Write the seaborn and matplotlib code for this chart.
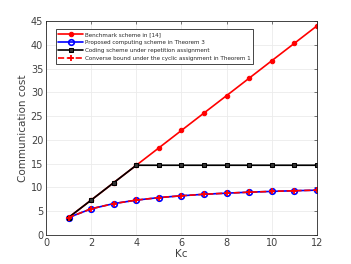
import numpy as np
import pandas as pd
import matplotlib
matplotlib.use("Agg")
import matplotlib.pyplot as plt
import seaborn as sns

kc = [1, 2, 3, 4, 5, 6, 7, 8, 9, 10, 11, 12]
benchmark = [3.67, 7.33, 11.0, 14.67, 18.33, 22.0, 25.67, 29.33, 33.0, 36.67, 40.33, 44.0]
proposed = [3.67, 5.5, 6.6, 7.33, 7.86, 8.25, 8.56, 8.8, 9.0, 9.17, 9.31, 9.43]
repetition = [3.67, 7.33, 11.0, 14.67, 14.67, 14.67, 14.67, 14.67, 14.67, 14.67, 14.67, 14.67]
converse = [3.67, 5.5, 6.6, 7.33, 7.86, 8.25, 8.56, 8.8, 9.0, 9.17, 9.31, 9.43]

labels = ["Benchmark scheme in [14]",
          "Proposed computing scheme in Theorem 3",
          "Coding scheme under repetition assignment",
          "Converse bound under the cyclic assignment in Theorem 1"]

sns.set_style("white")
plt.rcParams['font.family'] = ['DejaVu Sans']

fig = plt.figure(figsize=(3.51, 2.64), dpi=100)
ax = fig.add_axes([0.131, 0.110, 0.772, 0.810])

tc = '#404040'
sns.lineplot(x=kc, y=benchmark, ax=ax, color='red', lw=1.2, marker='o',
             markersize=3.2, markeredgecolor='red', label=labels[0])
sns.lineplot(x=kc, y=proposed, ax=ax, color='blue', lw=1.2, marker='o',
             markersize=4.0, markerfacecolor='none', markeredgecolor='blue',
             markeredgewidth=1.2, label=labels[1])
sns.lineplot(x=kc, y=repetition, ax=ax, color='black', lw=1.2, marker='s',
             markersize=3.3, markerfacecolor='#333333', markeredgecolor='black',
             label=labels[2])
sns.lineplot(x=kc, y=converse, ax=ax, color='red', lw=1.2, linestyle='--',
             marker='+', markersize=4, markeredgewidth=1.3, markeredgecolor='red',
             label=labels[3])

ax.set_xlim(0, 12)
ax.set_ylim(0, 45)
ax.set_xticks(range(0, 13, 2))
ax.set_yticks(range(0, 46, 5))
ax.grid(True, color='#ebebeb', lw=0.6)
for s in ax.spines.values():
    s.set_color('#262626')
    s.set_linewidth(0.6)
ax.tick_params(axis='both', labelsize=7, colors=tc, length=2, width=0.5,
               direction='in', top=True, right=True, pad=2)
ax.set_xlabel("Kc", fontsize=7.5, color=tc, labelpad=1)
ax.set_ylabel("Communication cost", fontsize=7.5, color=tc, labelpad=2)

leg = ax.legend(loc='upper left', prop={'size': 4.1}, frameon=True, fancybox=False,
                edgecolor='#262626', framealpha=1, borderpad=0.5, labelspacing=0.5,
                handlelength=4.3, handletextpad=0.3, bbox_to_anchor=(0.025, 0.975))
leg.get_frame().set_linewidth(0.6)

fig.savefig("out.png", dpi=100)
